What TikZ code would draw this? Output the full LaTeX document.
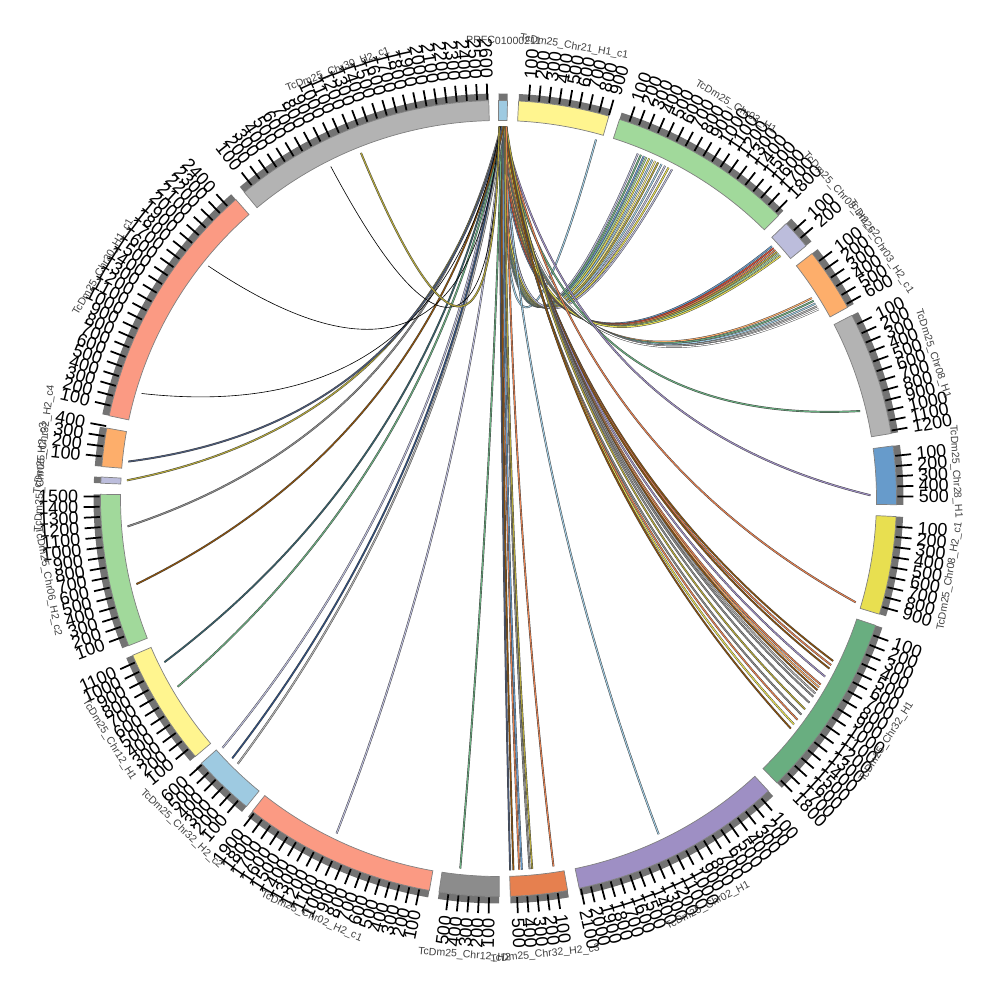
\documentclass[tikz,border=0pt]{standalone}
\usepackage{fontspec}
\setmainfont{Liberation Sans}
\usepackage{xcolor}
\usetikzlibrary{positioning,calc}

\definecolor{prfc}{HTML}{9ECAE1}
\definecolor{yel}{HTML}{FFF58F}
\definecolor{grn}{HTML}{A1D99B}
\definecolor{lav}{HTML}{BCBDDC}
\definecolor{org}{HTML}{FDAE6B}
\definecolor{gry}{HTML}{B3B3B3}
\definecolor{blu}{HTML}{679BCB}
\definecolor{mus}{HTML}{E8DF50}
\definecolor{dgr}{HTML}{69AE80}
\definecolor{pur}{HTML}{9E8FC4}
\definecolor{dor}{HTML}{E6804F}
\definecolor{mgr}{HTML}{8C8C8C}
\definecolor{sal}{HTML}{FB9A83}
\definecolor{lbl}{HTML}{9ECAE1}
\definecolor{olv}{HTML}{B5A83A}
\definecolor{brn}{HTML}{8C510A}
\definecolor{red}{HTML}{D9452F}
\definecolor{slt}{HTML}{4A5A7A}
\definecolor{nvy}{HTML}{2F4F7F}
\definecolor{tea}{HTML}{35606A}
\def\thinname{none}

\begin{document}
\begin{tikzpicture}[x=0.2mm,y=0.2mm,
  band/.style={fill=#1,draw=black!50,line width=0.4pt},
  strip/.style={fill=black!55},
  tickline/.style={line width=1pt},
  ticklab/.style={inner sep=0pt,font=\fontsize{10.2}{10.2}\selectfont},
  chrlab/.style={inner sep=0pt,text=black!75,font=\fontsize{6}{6}\selectfont},
  link/.style={draw=black!75,line width=0.25pt,double=#1,double distance=0.6pt},
  thinlink/.style={draw=black,line width=0.35pt}]

\useasboundingbox (-498.5,-501.5) rectangle (501.5,498.5);

% links out of PRFC01000211 (start angle / end angle / colour)
\foreach \a/\b/\c in {0.9/15.2/lbl,
  0.3/22.0/lav, 0.4/22.5/dgr, 0.5/23.0/blu, 0.6/23.4/grn, 0.7/23.9/mus, 0.8/24.4/lbl,
  0.9/24.9/yel, 1.0/25.4/olv, 1.1/26.0/lbl, 1.2/26.6/lav, 0.5/27.2/mus, 0.8/27.8/lav,
  0.3/47.3/blu, 0.5/47.7/red, 0.7/48.1/dor, 0.9/48.5/olv, 1.0/48.9/grn, 1.1/49.3/mus,
  0.4/57.4/org, 0.6/57.9/dgr, 0.8/58.4/lbl, 1.0/58.9/gry, 1.2/59.4/white,
  0.6/76.4/dgr, 0.7/89.5/pur, 0.8/106.2/dor,
  0.2/115.9/brn, 0.3/116.6/dor, 0.4/117.2/brn, 0.5/118.6/pur, 0.6/120.0/dor,
  0.7/120.5/org, 0.8/121.0/brn, 0.9/121.6/gry, 1.0/122.2/mgr, 1.1/123.3/mgr,
  1.2/124.5/olv, 0.3/125.5/mgr, 0.5/126.5/dor, 0.7/127.4/mus, 0.9/128.2/brn,
  0.6/154.5/lbl,
  0.2/178.2/slt, 0.4/177.7/brn, 0.6/176.8/dor, 0.7/176.4/blu, 0.9/175.2/mgr,
  1.0/174.8/olv, 1.2/171.5/dor,
  0.5/185.9/dgr, 0.6/205.8/lav,
  0.4/227.9/lav, 0.6/225.7/nvy, 0.8/224.5/gry,
  0.5/243.9/tea, 0.7/239.6/dgr,
  0.4/265.7/mgr, 0.8/256.7/brn,
  0.6/272.8/olv, 0.5/275.7/slt,
  0.3/286.4/none, 0.2/308.7/none, 0.2/333.2/none, 0.1/338.3/olv}{
  \pgfmathsetmacro\dl{\b<180 ? \b-\a : 360-\b+\a}
  \pgfmathsetmacro\md{\b<180 ? (\a+\b)/2 : (\a+\b)/2+180}
  \pgfmathsetmacro\cc{0.8*min(\dl,180-\dl)}
  \ifx\c\thinname
    \draw[thinlink] (90-\a:372) .. controls ($(90-\a:124)+(90-\md:\cc)$)
      and ($(90-\b:124)+(90-\md:\cc)$) .. (90-\b:372);
  \else
    \draw[link=\c] (90-\a:372) .. controls ($(90-\a:124)+(90-\md:\cc)$)
      and ($(90-\b:124)+(90-\md:\cc)$) .. (90-\b:372);
  \fi
}

% ideogram: start/end/ticks/colour/name
\def\stp{1.465}
\foreach \s/\e/\n/\c/\lab [count=\i] in {
  0.0/1.3/0/prfc/PRFC01000211,
  2.9/16.1/9/yel/TcDm25\_Chr21\_H1\_c1,
  17.7/44.7/18/grn/TcDm25\_Chr03\_H1,
  46.3/50.6/2/lav/TcDm25\_Chr03\_H2\_c2,
  52.0/61.3/6/org/TcDm25\_Chr03\_H2\_c1,
  62.6/80.6/12/gry/TcDm25\_Chr08\_H1,
  82.4/90.9/5/blu/TcDm25\_Chr28\_H1,
  92.6/106.9/9/mus/TcDm25\_Chr08\_H2\_c1,
  108.6/135.6/18/dgr/TcDm25\_Chr32\_H1,
  137.3/168.3/21/pur/TcDm25\_Chr02\_H1,
  170.0/178.3/5/dor/TcDm25\_Chr32\_H2\_c3,
  179.9/188.6/5/mgr/TcDm25\_Chr12\_H2,
  190.0/218.2/19/sal/TcDm25\_Chr02\_H2\_c1,
  219.3/228.3/6/lbl/TcDm25\_Chr32\_H2\_c2,
  229.6/246.8/11/yel/TcDm25\_Chr12\_H1,
  248.3/270.6/15/grn/TcDm25\_Chr06\_H2\_c2,
  272.2/273.1/0/lav/TcDm25\_Chr06\_H2\_c3,
  274.6/280.2/4/org/TcDm25\_Chr32\_H2\_c4,
  282.0/318.7/24/sal/TcDm25\_Chr30\_H1\_c1,
  320.3/358.6/26/gry/TcDm25\_Chr30\_H2\_c1}{
  \fill[strip] (90-\s:398) -- (90-\s:405) arc[start angle=90-\s,end angle=90-\e,radius=405]
    -- (90-\e:398) arc[start angle=90-\e,end angle=90-\s,radius=398] -- cycle;
  \draw[band=\c] (90-\s:378) -- (90-\s:398) arc[start angle=90-\s,end angle=90-\e,radius=398]
    -- (90-\e:378) arc[start angle=90-\e,end angle=90-\s,radius=378] -- cycle;
  \ifnum\n>0
    \foreach \k in {1,...,\n}{
      \pgfmathsetmacro\t{\s+\k*\stp}
      \pgfmathsetmacro\rt{\t<180 ? 90-\t : 270-\t}
      \pgfmathtruncatemacro\rs{\t<180 ? 1 : 0}
      \pgfmathtruncatemacro\val{\k*100}
      \ifnum\rs=1 \def\anc{west}\else\def\anc{east}\fi
      \draw[tickline] (90-\t:399) -- (90-\t:415);
      \node[ticklab,rotate=\rt,anchor=\anc] at (90-\t:420) {\val};
    }
  \fi
  \pgfmathsetmacro\m{(\s+\e)/2}
  \pgfmathsetmacro\rot{\m<90.01 ? -\m : (\m<270 ? 180-\m : 360-\m)}
  \node[chrlab,rotate=\rot] (chr\i) at (90-\m:458) {\lab};
}

\end{tikzpicture}
\end{document}
